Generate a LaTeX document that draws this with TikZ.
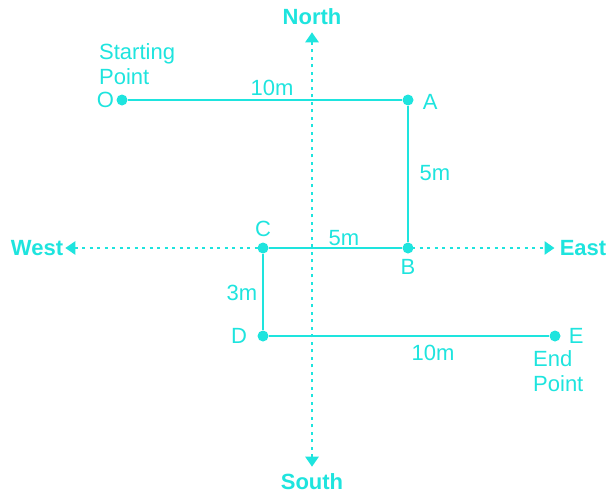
\documentclass[tikz,border=0pt]{standalone}
\usepackage{fontspec}
\setmainfont{Liberation Sans}
\usepackage{tikz}
\usetikzlibrary{positioning, arrows.meta}
\definecolor{aqua}{RGB}{30,228,222}
\tikzset{
  dot/.style={circle, fill=aqua, inner sep=0pt, minimum size=11pt},
  lbl/.style={text=aqua, inner sep=0pt, font=\fontsize{22}{25}\selectfont},
  compass/.style={lbl, font=\fontsize{22}{25}\selectfont\bfseries},
  route/.style={draw=aqua, line width=2.6pt},
  axis/.style={draw=aqua, line width=2.6pt, dash pattern=on 3pt off 4.5pt,
    {Triangle[length=10pt,width=13pt]}-{Triangle[length=10pt,width=13pt]}}
}

\begin{document}
\begin{tikzpicture}[x=1pt, y=-1pt]
  \useasboundingbox (0,0) rectangle (609,495);

  % Compass axes
  \node[compass] (northlbl) at (312,17) {North};
  \node[compass] (southlbl) at (312,482) {South};
  \node[compass] (westlbl) at (37,248) {West};
  \node[compass] (eastlbl) at (583,248) {East};
  \draw[axis, shorten <=7pt, shorten >=7pt] (southlbl) -- (northlbl);
  \draw[axis, shorten <=2pt, shorten >=5pt] (westlbl) -- (eastlbl);

  % Walk
  \node[dot] (O) at (122,100) {};
  \node[dot] (A) at (408,100) {};
  \node[dot] (B) at (408,248) {};
  \node[dot] (C) at (263,248) {};
  \node[dot] (D) at (263,336) {};
  \node[dot] (E) at (555,336) {};
  \draw[route] (O) -- (A) -- (B) -- (C) -- (D) -- (E);

  % Point names
  \node[lbl, left=2pt of O] (Olbl) {O};
  \node[lbl, right=9pt of A, yshift=-2pt] (Albl) {A};
  \node[lbl, below=5pt of B] (Blbl) {B};
  \node[lbl, above=5pt of C] (Clbl) {C};
  \node[lbl, left=10pt of D] (Dlbl) {D};
  \node[lbl, right=8pt of E] (Elbl) {E};
  \node[lbl, align=left, anchor=south west] (start) at (99,85) {Starting\\Point};
  \node[lbl, align=left, anchor=north west] (finish) at (533,350) {End\\Point};

  % Distances
  \node[lbl] (dOA) at (272,88) {10m};
  \node[lbl] (dAB) at (435,173) {5m};
  \node[lbl] (dBC) at (344,238) {5m};
  \node[lbl] (dCD) at (242,293) {3m};
  \node[lbl] (dDE) at (433,353) {10m};
\end{tikzpicture}
\end{document}
